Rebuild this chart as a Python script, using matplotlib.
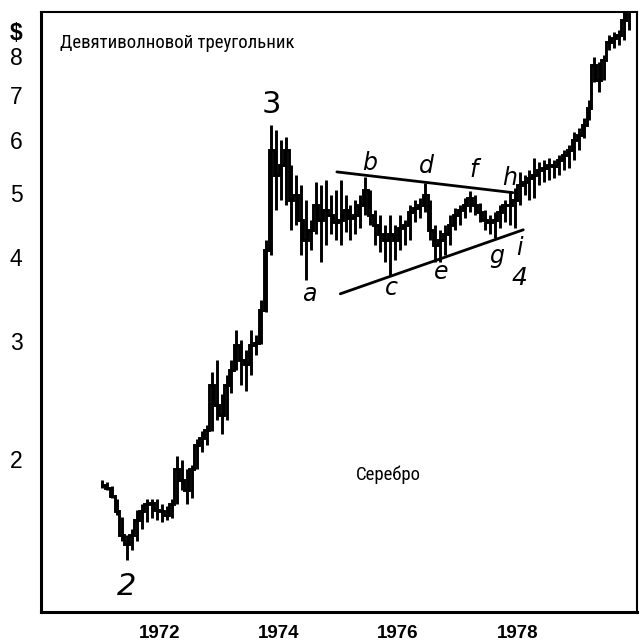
import matplotlib
matplotlib.use("Agg")
import matplotlib.pyplot as plt
import numpy as np
import pandas as pd
from matplotlib import font_manager

# Monthly silver prices, $ per ounce (Jan 1971 - Nov 1979)
high = [1.86, 1.85, 1.82, 1.74, 1.64, 1.54, 1.57, 1.68, 1.71, 1.74, 1.74, 1.74,
        1.71, 1.70, 1.74, 2.02, 1.99, 1.93, 1.96, 2.14, 2.20, 2.25, 2.70, 2.81,
        2.50, 2.67, 2.81, 3.12, 3.01, 2.91, 3.12, 3.06, 3.46, 4.25, 6.32, 6.21,
        6.00, 6.06, 5.50, 5.31, 5.13, 4.88, 4.55, 5.19, 5.13, 5.22, 4.96, 5.05,
        5.22, 4.96, 4.79, 4.88, 4.96, 5.28, 5.05, 4.71, 4.63, 4.48, 4.63, 4.48,
        4.63, 4.55, 4.79, 4.88, 4.91, 5.17, 4.88, 4.48, 4.40, 4.48, 4.63, 4.75,
        4.79, 4.91, 5.02, 4.96, 4.83, 4.71, 4.63, 4.68, 4.79, 4.88, 5.02, 5.08,
        5.37, 5.31, 5.41, 5.64, 5.56, 5.60, 5.64, 5.60, 5.69, 5.79, 5.89, 6.17,
        6.25, 6.46, 6.88, 7.98, 7.84, 8.04, 8.61, 8.70, 8.76, 9.31, 9.60]
low = [1.81, 1.80, 1.75, 1.65, 1.51, 1.41, 1.46, 1.51, 1.57, 1.61, 1.63, 1.62,
       1.61, 1.62, 1.63, 1.71, 1.80, 1.71, 1.75, 1.93, 2.05, 2.10, 2.20, 2.29,
       2.18, 2.29, 2.51, 2.72, 2.58, 2.53, 2.67, 2.86, 2.97, 3.32, 4.04, 4.71,
       4.88, 4.79, 4.40, 4.48, 4.04, 3.70, 4.11, 4.33, 3.94, 4.18, 4.33, 4.25,
       4.18, 4.37, 4.25, 4.33, 4.43, 4.63, 4.48, 4.18, 4.08, 3.94, 3.75, 3.97,
       4.11, 4.18, 4.25, 4.52, 4.58, 4.68, 4.25, 3.94, 3.94, 4.04, 4.18, 4.40,
       4.48, 4.58, 4.68, 4.63, 4.52, 4.40, 4.33, 4.28, 4.43, 4.52, 4.48, 4.43,
       4.79, 4.96, 4.88, 4.91, 5.13, 5.19, 5.22, 5.26, 5.31, 5.41, 5.45, 5.60,
       5.79, 6.04, 6.42, 7.32, 7.07, 7.37, 8.17, 8.23, 8.31, 8.46, 8.76]
close = [1.83, 1.81, 1.76, 1.67, 1.54, 1.49, 1.54, 1.62, 1.67, 1.71, 1.72, 1.68,
         1.67, 1.65, 1.71, 1.93, 1.86, 1.80, 1.93, 2.10, 2.15, 2.21, 2.58, 2.41,
         2.33, 2.58, 2.72, 2.96, 2.81, 2.77, 2.96, 2.98, 3.34, 4.11, 5.79, 5.31,
         5.50, 5.79, 4.88, 4.96, 4.55, 4.25, 4.40, 4.79, 4.55, 4.71, 4.63, 4.52,
         4.55, 4.71, 4.58, 4.63, 4.79, 5.05, 4.63, 4.48, 4.33, 4.25, 4.33, 4.25,
         4.43, 4.48, 4.68, 4.75, 4.79, 4.96, 4.40, 4.18, 4.25, 4.33, 4.48, 4.63,
         4.71, 4.79, 4.91, 4.79, 4.68, 4.55, 4.52, 4.55, 4.68, 4.79, 4.79, 4.88,
         5.13, 5.19, 5.26, 5.31, 5.41, 5.45, 5.50, 5.48, 5.60, 5.69, 5.79, 6.00,
         6.10, 6.32, 6.70, 7.76, 7.37, 7.90, 8.40, 8.52, 8.61, 9.06, 9.40]

dates = pd.date_range("1971-01-01", periods=len(close), freq="MS") + pd.Timedelta(days=14)

# Triangle boundaries: (date, price) endpoints
upper_line = (["1974-12-22", "1977-12-05"], [5.37, 5.00])
lower_line = (["1975-01-12", "1978-02-06"], [3.53, 4.40])

# Wave labels: text, date, price, size, italic
wave_labels = [
    ("3", "1973-11-15", 6.78, 22, False),
    ("2", "1971-06-13", 1.29, 22, True),
    ("a", "1974-07-08", 3.53, 17, True),
    ("b", "1975-07-12", 5.54, 17, True),
    ("c", "1975-11-24", 3.60, 17, True),
    ("d", "1976-06-25", 5.48, 17, True),
    ("e", "1976-09-20", 3.81, 17, True),
    ("f", "1977-04-05", 5.41, 17, True),
    ("g", "1977-08-30", 4.02, 17, True),
    ("h", "1977-11-17", 5.26, 17, True),
    ("i", "1978-01-12", 4.13, 17, True),
    ("4", "1978-01-12", 3.73, 18, True),
]

y_ticks = [2, 3, 4, 5, 6, 7, 8]
x_ticks = ["1972", "1974", "1976", "1978"]

# Pick the narrowest available sans family for the captions
installed = {f.name for f in font_manager.fontManager.ttflist}
caption_family = next((name for name in ("Roboto Condensed", "Liberation Sans Narrow",
                                          "Open Sans Condensed", "Roboto")
                       if name in installed), "DejaVu Sans")
caption_size = 13.5 if caption_family != "Roboto" else 12.5

fig = plt.figure(figsize=(6.4, 6.41), dpi=100)
ax = fig.add_axes([40.5 / 640, 29 / 641, 596 / 640, 600 / 641])

ax.set_yscale("log")
ax.set_ylim(1.181, 9.31)
ax.set_xlim(pd.Timestamp("1970-01-01"), pd.Timestamp("1980-01-01"))

lw = 2.1
ax.vlines(dates, low, high, color="black", lw=lw, capstyle="butt")
ax.step(dates, close, where="mid", color="black", lw=lw, solid_joinstyle="miter")

for xs, ys in (upper_line, lower_line):
    ax.plot(pd.to_datetime(xs), ys, color="black", lw=2.0, solid_capstyle="round")

for txt, d, p, size, ital in wave_labels:
    ax.text(pd.Timestamp(d), p, txt, ha="center", va="center", fontsize=size,
            style="italic" if ital else "normal", family="DejaVu Sans")

ax.text(0.033, 0.948, "Девятиволновой треугольник", transform=ax.transAxes,
        ha="left", va="center", fontsize=caption_size, fontweight="normal",
        family=[caption_family, "DejaVu Sans"])
ax.text(0.583, 0.228, "Серебро", transform=ax.transAxes,
        ha="center", va="center", fontsize=caption_size, fontweight="normal",
        family=[caption_family, "DejaVu Sans"])

ax.yaxis.set_major_locator(matplotlib.ticker.FixedLocator(y_ticks))
ax.yaxis.set_minor_locator(matplotlib.ticker.NullLocator())
ax.set_yticklabels([str(v) for v in y_ticks], fontsize=16.5,
                   family="Liberation Sans")
ax.set_xticks([pd.Timestamp(y + "-01-01") for y in x_ticks])
ax.set_xticklabels(x_ticks, fontsize=13.5, fontweight="bold",
                   family="Liberation Sans")
ax.tick_params(axis="both", which="both", length=0)
ax.tick_params(axis="y", pad=13)
ax.tick_params(axis="x", pad=9)

fig.text(16 / 640, 1 - 34 / 641, "$", ha="center", va="center", fontsize=16.5,
         fontweight="bold", family="Liberation Sans")

for side in ("left", "bottom"):
    ax.spines[side].set_linewidth(2.2)
for side in ("top", "right"):
    ax.spines[side].set_linewidth(1.5)

fig.savefig("out.png", dpi=100)
